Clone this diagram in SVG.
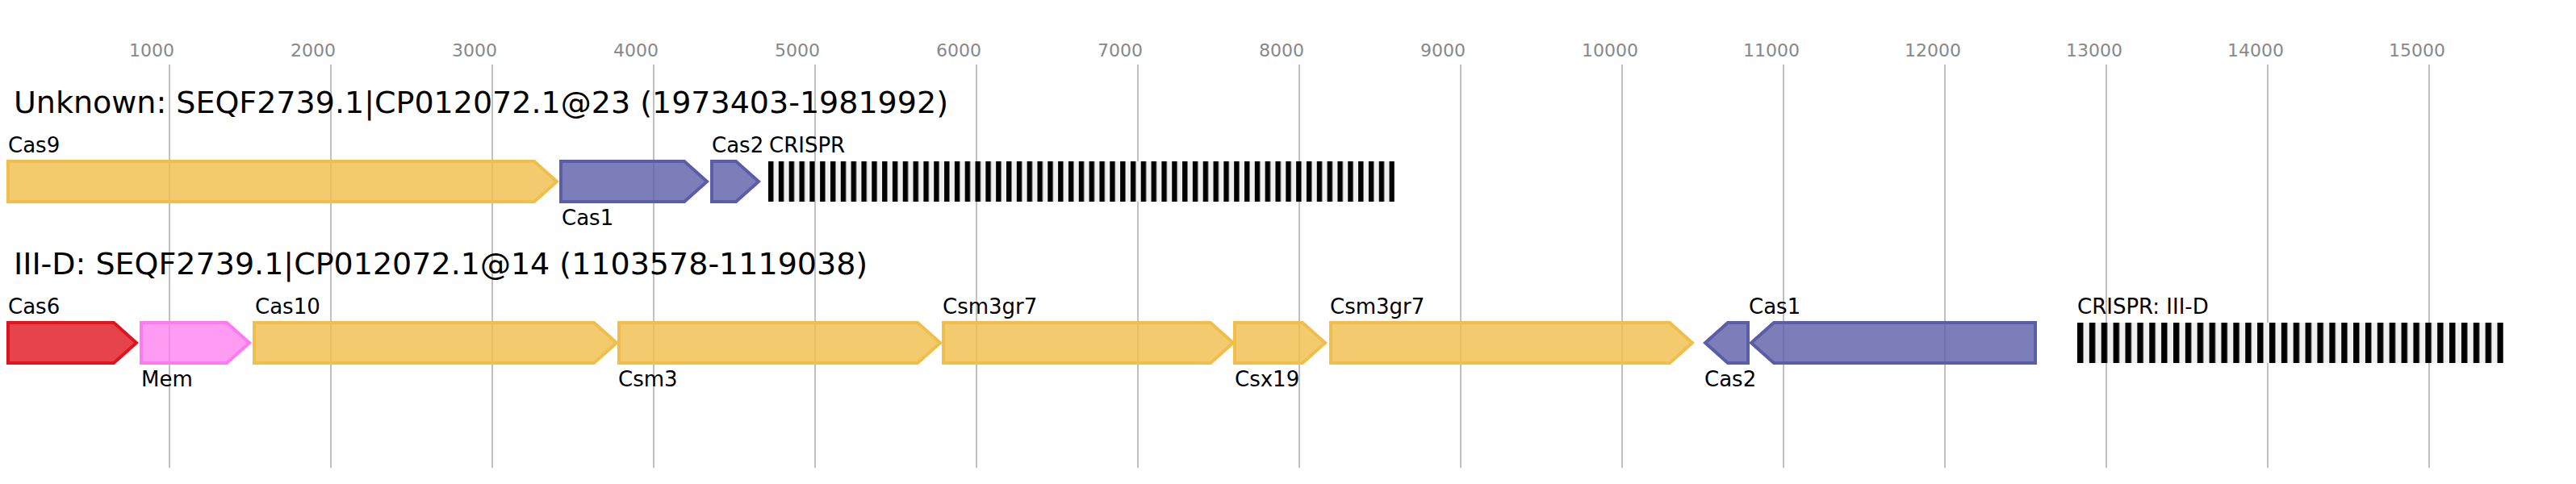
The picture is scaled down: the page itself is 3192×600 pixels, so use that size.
<svg xmlns="http://www.w3.org/2000/svg" width="3192" height="600" viewBox="0 0 3192 600">
<style>
.grid{stroke:#c0c0c0;stroke-width:2}
.tick{font-family:"DejaVu Sans",sans-serif;font-size:22px;fill:#888888}
.title{font-family:"DejaVu Sans",sans-serif;font-size:38px;fill:#000}
.lbl{font-family:"DejaVu Sans",sans-serif;font-size:26px;fill:#000}
.g{stroke-width:4;stroke-linejoin:miter;fill-opacity:0.8}
.y{fill:#f0be4a;stroke:#f0be4a}
.b{fill:#5a5ea8;stroke:#5a5ea8}
.r{fill:#e0141e;stroke:#e0141e}
.p{fill:#ff7aee;stroke:#ff7aee;fill-opacity:0.75}
.crbg{fill:#f0f0f0}
</style>
<defs>
<pattern id="cr1" patternUnits="userSpaceOnUse" x="952" y="0" width="12.826" height="600"><rect x="0" y="0" width="6.413" height="600" fill="#000"/></pattern>
<pattern id="cr2" patternUnits="userSpaceOnUse" x="2574" y="0" width="14.873" height="600"><rect x="0" y="0" width="7.437" height="600" fill="#000"/></pattern>
</defs>
<rect width="3192" height="600" fill="#fff"/>
<g id="axis">
<line class="grid" x1="210" y1="80" x2="210" y2="580"/><text class="tick" x="160" y="70">1000</text>
<line class="grid" x1="410" y1="80" x2="410" y2="580"/><text class="tick" x="360" y="70">2000</text>
<line class="grid" x1="610" y1="80" x2="610" y2="580"/><text class="tick" x="560" y="70">3000</text>
<line class="grid" x1="810" y1="80" x2="810" y2="580"/><text class="tick" x="760" y="70">4000</text>
<line class="grid" x1="1010" y1="80" x2="1010" y2="580"/><text class="tick" x="960" y="70">5000</text>
<line class="grid" x1="1210" y1="80" x2="1210" y2="580"/><text class="tick" x="1160" y="70">6000</text>
<line class="grid" x1="1410" y1="80" x2="1410" y2="580"/><text class="tick" x="1360" y="70">7000</text>
<line class="grid" x1="1610" y1="80" x2="1610" y2="580"/><text class="tick" x="1560" y="70">8000</text>
<line class="grid" x1="1810" y1="80" x2="1810" y2="580"/><text class="tick" x="1760" y="70">9000</text>
<line class="grid" x1="2010" y1="80" x2="2010" y2="580"/><text class="tick" x="1960" y="70">10000</text>
<line class="grid" x1="2210" y1="80" x2="2210" y2="580"/><text class="tick" x="2160" y="70">11000</text>
<line class="grid" x1="2410" y1="80" x2="2410" y2="580"/><text class="tick" x="2360" y="70">12000</text>
<line class="grid" x1="2610" y1="80" x2="2610" y2="580"/><text class="tick" x="2560" y="70">13000</text>
<line class="grid" x1="2810" y1="80" x2="2810" y2="580"/><text class="tick" x="2760" y="70">14000</text>
<line class="grid" x1="3010" y1="80" x2="3010" y2="580"/><text class="tick" x="2960" y="70">15000</text>
</g>
<g id="connectors"></g>
<g id="row1">
<text class="title" x="17" y="140">Unknown: SEQF2739.1|CP012072.1@23 (1973403-1981992)</text>
<g id="r1-cas9"><path class="g y" d="M10,200 L662,200 L690,225 L662,250 L10,250 Z"/><text class="lbl" x="10" y="189">Cas9</text></g>
<g id="r1-cas1"><path class="g b" d="M695,200 L848,200 L876,225 L848,250 L695,250 Z"/><text class="lbl" x="696" y="279">Cas1</text></g>
<g id="r1-cas2"><path class="g b" d="M882,200 L912,200 L940,225 L912,250 L882,250 Z"/><text class="lbl" x="882" y="189">Cas2</text></g>
<g id="r1-crispr"><rect class="crbg" x="952" y="200" width="776" height="50"/><rect x="952" y="200" width="776" height="50" fill="url(#cr1)"/><text class="lbl" x="953" y="189">CRISPR</text></g>
</g>
<g id="row2">
<text class="title" x="17" y="340">III-D: SEQF2739.1|CP012072.1@14 (1103578-1119038)</text>
<g id="r2-cas6"><path class="g r" d="M10,400 L141,400 L169,425 L141,450 L10,450 Z"/><text class="lbl" x="10" y="389">Cas6</text></g>
<g id="r2-mem"><path class="g p" d="M175,400 L281,400 L309,425 L281,450 L175,450 Z"/><text class="lbl" x="175" y="479">Mem</text></g>
<g id="r2-cas10"><path class="g y" d="M315,400 L736,400 L764,425 L736,450 L315,450 Z"/><text class="lbl" x="316" y="389">Cas10</text></g>
<g id="r2-csm3"><path class="g y" d="M767,400 L1137,400 L1165,425 L1137,450 L767,450 Z"/><text class="lbl" x="766" y="479">Csm3</text></g>
<g id="r2-csm3gr7a"><path class="g y" d="M1169,400 L1500,400 L1528,425 L1500,450 L1169,450 Z"/><text class="lbl" x="1168" y="389">Csm3gr7</text></g>
<g id="r2-csx19"><path class="g y" d="M1530,400 L1614,400 L1642,425 L1614,450 L1530,450 Z"/><text class="lbl" x="1530" y="479">Csx19</text></g>
<g id="r2-csm3gr7b"><path class="g y" d="M1649,400 L2069,400 L2097,425 L2069,450 L1649,450 Z"/><text class="lbl" x="1648" y="389">Csm3gr7</text></g>
<g id="r2-cas2"><path class="g b" d="M2166,400 L2141,400 L2113,425 L2141,450 L2166,450 Z"/><text class="lbl" x="2112" y="479">Cas2</text></g>
<g id="r2-cas1"><path class="g b" d="M2522,400 L2198,400 L2170,425 L2198,450 L2522,450 Z"/><text class="lbl" x="2167" y="389">Cas1</text></g>
<g id="r2-crispr"><rect class="crbg" x="2574" y="400" width="528" height="50"/><rect x="2574" y="400" width="528" height="50" fill="url(#cr2)"/><text class="lbl" x="2574" y="389">CRISPR: III-D</text></g>
</g>
</svg>
